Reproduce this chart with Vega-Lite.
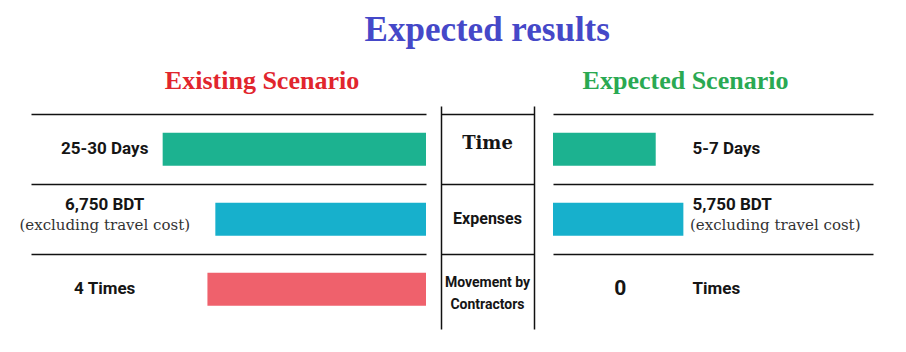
{
  "$schema": "https://vega.github.io/schema/vega-lite/v6.json",
  "background": "white",
  "autosize": {"type": "pad"},
  "padding": {"left": 19, "top": 13, "right": 5, "bottom": 5},
  "title": {"text": "Expected results", "font": "Liberation Serif", "fontSize": 35, "fontWeight": "bold", "color": "#4548c8", "anchor": "middle", "frame": "bounds", "dx": 41, "baseline": "alphabetic", "offset": -8},
  "datasets": {
    "rows": [
      {"metric": "Time", "metric_label": "Time", "existing_len": 100, "existing_label": "25-30 Days", "existing_note": null, "expected_len": 39, "expected_label": "5-7 Days", "expected_note": null, "expected_count": null},
      {"metric": "Expenses", "metric_label": "Expenses", "existing_len": 80, "existing_label": "6,750 BDT", "existing_note": "(excluding travel cost)", "expected_len": 49.5, "expected_label": "5,750 BDT", "expected_note": "(excluding travel cost)", "expected_count": null},
      {"metric": "Movement by Contractors", "metric_label": "Movement by\nContractors", "existing_len": 83, "existing_label": "4 Times", "existing_note": null, "expected_len": 0, "expected_label": "Times", "expected_note": null, "expected_count": "0"}
    ]
  },
  "data": {"name": "rows"},
  "spacing": 0,
  "bounds": "flush",
  "config": {"view": {"stroke": null}},
  "hconcat": [
    {
      "width": 410,
      "height": 223,
      "title": {"text": "Existing Scenario", "font": "Liberation Serif", "fontSize": 26, "fontWeight": "bold", "color": "#e1252d", "anchor": "middle", "frame": "group", "dx": 26, "baseline": "alphabetic", "offset": -9},
      "encoding": {
        "y": {"field": "metric", "type": "nominal", "scale": {"type": "band", "domain": ["Time", "Expenses", "Movement by Contractors"], "paddingInner": 0, "paddingOuter": 0.0929, "align": 0.64},
          "axis": {"orient": "left", "domain": false, "ticks": false, "labels": false, "title": null, "grid": true, "gridColor": "#111111", "gridWidth": 1.5, "gridOpacity": 1, "bandPosition": 0}}
      },
      "layer": [
        {
          "mark": {"type": "bar", "size": 33},
          "encoding": {
            "x": {"field": "existing_len", "type": "quantitative", "scale": {"domain": [0, 150], "range": [395, 0], "nice": false}, "axis": null},
            "color": {"field": "metric", "type": "nominal", "scale": {"domain": ["Time", "Expenses", "Movement by Contractors"], "range": ["#1cb290", "#17b0cc", "#ef616c"]}, "legend": null}
          }
        },
        {
          "transform": [{"filter": "datum.existing_note == null"}],
          "mark": {"type": "text", "font": "Roboto", "fontSize": 17, "fontWeight": "bold", "color": "#151515", "align": "center", "baseline": "middle"},
          "encoding": {"x": {"datum": 122, "type": "quantitative", "axis": null}, "text": {"field": "existing_label"}}
        },
        {
          "transform": [{"filter": "datum.existing_note != null"}],
          "mark": {"type": "text", "font": "Roboto", "fontSize": 17, "fontWeight": "bold", "color": "#151515", "align": "center", "baseline": "middle", "dy": -14},
          "encoding": {"x": {"datum": 122, "type": "quantitative", "axis": null}, "text": {"field": "existing_label"}}
        },
        {
          "transform": [{"filter": "datum.existing_note != null"}],
          "mark": {"type": "text", "font": "DejaVu Serif", "fontSize": 15, "color": "#333333", "align": "center", "baseline": "middle", "dy": 6},
          "encoding": {"x": {"datum": 122, "type": "quantitative", "axis": null}, "text": {"field": "existing_note"}}
        }
      ]
    },
    {
      "width": 93,
      "height": 223,
      "encoding": {
        "y": {"field": "metric", "type": "nominal", "scale": {"type": "band", "domain": ["Time", "Expenses", "Movement by Contractors"], "paddingInner": 0, "paddingOuter": 0.0929, "align": 0.64},
          "axis": {"orient": "left", "domain": true, "domainColor": "#111111", "domainWidth": 1.5, "ticks": false, "labels": false, "title": null, "grid": true, "gridColor": "#111111", "gridWidth": 1.5, "gridOpacity": 1, "bandPosition": 0}},
        "text": {"field": "metric_label"}
      },
      "layer": [
        {
          "transform": [{"filter": "datum.metric == 'Time'"}],
          "mark": {"type": "text", "font": "DejaVu Serif", "fontSize": 18, "fontWeight": "bold", "color": "#151515", "align": "center", "baseline": "middle", "dy": -5}
        },
        {
          "transform": [{"filter": "datum.metric == 'Expenses'"}],
          "mark": {"type": "text", "font": "Roboto", "fontSize": 16, "fontWeight": "bold", "color": "#151515", "align": "center", "baseline": "middle"}
        },
        {
          "transform": [{"filter": "datum.metric == 'Movement by Contractors'"}],
          "mark": {"type": "text", "font": "Roboto", "fontSize": 14, "fontWeight": "bold", "color": "#151515", "align": "center", "baseline": "middle", "lineBreak": "\n", "lineHeight": 22, "dy": -6}
        }
      ]
    },
    {
      "width": 339,
      "height": 223,
      "title": {"text": "Expected Scenario", "font": "Liberation Serif", "fontSize": 26, "fontWeight": "bold", "color": "#2aa952", "anchor": "middle", "frame": "group", "dx": -18, "baseline": "alphabetic", "offset": -9},
      "encoding": {
        "y": {"field": "metric", "type": "nominal", "scale": {"type": "band", "domain": ["Time", "Expenses", "Movement by Contractors"], "paddingInner": 0, "paddingOuter": 0.0929, "align": 0.64},
          "axis": {"orient": "left", "domain": true, "domainColor": "#111111", "domainWidth": 1.5, "ticks": false, "labels": false, "title": null, "grid": true, "gridColor": "#111111", "gridWidth": 1.5, "gridOpacity": 1, "bandPosition": 0}}
      },
      "layer": [
        {
          "transform": [{"filter": "datum.expected_len > 0"}],
          "mark": {"type": "bar", "size": 33},
          "encoding": {
            "x": {"field": "expected_len", "type": "quantitative", "scale": {"domain": [0, 121.5], "range": [19, 339], "nice": false}, "axis": null},
            "color": {"field": "metric", "type": "nominal", "scale": {"domain": ["Time", "Expenses", "Movement by Contractors"], "range": ["#1cb290", "#17b0cc", "#ef616c"]}, "legend": null}
          }
        },
        {
          "transform": [{"filter": "datum.expected_note == null"}],
          "mark": {"type": "text", "font": "Roboto", "fontSize": 17, "fontWeight": "bold", "color": "#151515", "align": "left", "baseline": "middle"},
          "encoding": {"x": {"datum": 53, "type": "quantitative", "axis": null}, "text": {"field": "expected_label"}}
        },
        {
          "transform": [{"filter": "datum.expected_note != null"}],
          "mark": {"type": "text", "font": "Roboto", "fontSize": 17, "fontWeight": "bold", "color": "#151515", "align": "left", "baseline": "middle", "dy": -14},
          "encoding": {"x": {"datum": 53, "type": "quantitative", "axis": null}, "text": {"field": "expected_label"}}
        },
        {
          "transform": [{"filter": "datum.expected_note != null"}],
          "mark": {"type": "text", "font": "DejaVu Serif", "fontSize": 15, "color": "#333333", "align": "left", "baseline": "middle", "dy": 6},
          "encoding": {"x": {"datum": 52, "type": "quantitative", "axis": null}, "text": {"field": "expected_note"}}
        },
        {
          "transform": [{"filter": "datum.expected_count != null"}],
          "mark": {"type": "text", "font": "Roboto", "fontSize": 21, "fontWeight": "bold", "color": "#151515", "align": "center", "baseline": "middle"},
          "encoding": {"x": {"datum": 25.5, "type": "quantitative", "axis": null}, "text": {"field": "expected_count"}}
        }
      ]
    }
  ]
}
